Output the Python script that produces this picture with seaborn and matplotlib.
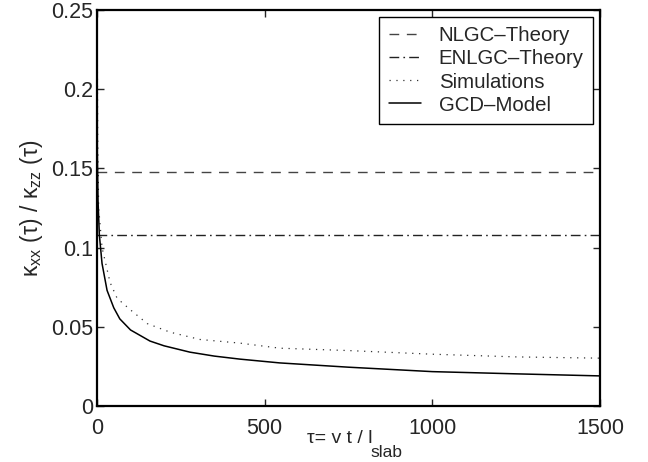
import numpy as np
import pandas as pd
import matplotlib
matplotlib.use("Agg")
import matplotlib.pyplot as plt
import seaborn as sns

# ---- data ----
nlgc_value = 0.148
enlgc_value = 0.108
x_range = [0, 1500]

gcd_tau = [0.3, 1, 3, 7, 15, 30, 50, 68, 100, 158, 200, 277, 350, 426, 545, 750, 1000, 1250, 1500]
gcd_val = [0.25, 0.16, 0.13, 0.108, 0.09, 0.073, 0.062, 0.055, 0.048, 0.041, 0.038, 0.034,
           0.0315, 0.0296, 0.0272, 0.0245, 0.0217, 0.0203, 0.019]

sim_tau = [0.5, 2, 5, 15, 39, 60, 98, 150, 218, 307, 426, 545, 750, 1000, 1250, 1500]
sim_val = [0.25, 0.17, 0.125, 0.10, 0.078, 0.068, 0.061, 0.052, 0.0466, 0.042, 0.0397, 0.0365,
           0.035, 0.0327, 0.031, 0.0302]

x_ticks = [0, 500, 1000, 1500]
y_ticks = [0, 0.05, 0.1, 0.15, 0.2, 0.25]
y_ticklabels = ["0", "0.05", "0.1", "0.15", "0.2", "0.25"]

sns.set_style("ticks")
plt.rcParams["font.family"] = ["Liberation Sans", "DejaVu Sans"]
plt.rcParams["mathtext.fontset"] = "custom"
plt.rcParams["mathtext.rm"] = "Liberation Sans"
plt.rcParams["mathtext.it"] = "Liberation Sans"

fig = plt.figure(figsize=(6.48, 4.62), dpi=100)
ax = fig.add_axes([97 / 648, 1 - 406 / 462, (600 - 97) / 648, (406 - 10) / 462])

df_n = pd.DataFrame({"x": x_range, "y": [nlgc_value] * 2})
df_e = pd.DataFrame({"x": x_range, "y": [enlgc_value] * 2})
df_s = pd.DataFrame({"x": sim_tau, "y": sim_val})
df_g = pd.DataFrame({"x": gcd_tau, "y": gcd_val})

sns.lineplot(data=df_n, x="x", y="y", ax=ax, color="#444444", lw=1.0,
             linestyle=(0, (7, 5.5)), label="NLGC\u2013Theory")
sns.lineplot(data=df_e, x="x", y="y", ax=ax, color="#222222", lw=1.0,
             linestyle=(0, (7, 3, 1.2, 3)), label="ENLGC\u2013Theory")
sns.lineplot(data=df_s, x="x", y="y", ax=ax, color="#333333", lw=0.9,
             linestyle=(0, (1, 4.5)), label="Simulations")
sns.lineplot(data=df_g, x="x", y="y", ax=ax, color="black", lw=1.1,
             linestyle="-", label="GCD\u2013Model")

ax.set_xlim(0, 1500)
ax.set_ylim(0, 0.25)
ax.set_xticks(x_ticks)
ax.set_xticklabels([str(t) for t in x_ticks])
ax.set_yticks(y_ticks)
ax.set_yticklabels(y_ticklabels)
ax.tick_params(direction="in", top=True, right=True, length=5, width=1,
               labelsize=15.5)
ax.tick_params(axis="x", pad=9)
ax.tick_params(axis="y", pad=3)
for s in ax.spines.values():
    s.set_linewidth(1.6)
    s.set_color("black")

ax.set_xlabel("")
ax.set_ylabel(r"$\mathregular{\kappa_{xx}\ (\tau)\ /\ \kappa_{zz}\ (\tau)}$", fontsize=16.5, labelpad=4)
fig.text(307 / 648, 1 - 443 / 462, "\u03c4= v t / l", fontsize=14,
         ha="left", va="baseline")
fig.text(370 / 648, 1 - 457 / 462, "slab", fontsize=12.5,
         ha="left", va="baseline")

leg = ax.legend(loc="upper right", fontsize=14.7, frameon=True, fancybox=False,
                framealpha=1, edgecolor="black", handlelength=1.6,
                borderpad=0.45, labelspacing=0.2, handletextpad=0.85,
                borderaxespad=0.35)
leg.get_frame().set_linewidth(1.0)

fig.savefig("out.png", dpi=100)
